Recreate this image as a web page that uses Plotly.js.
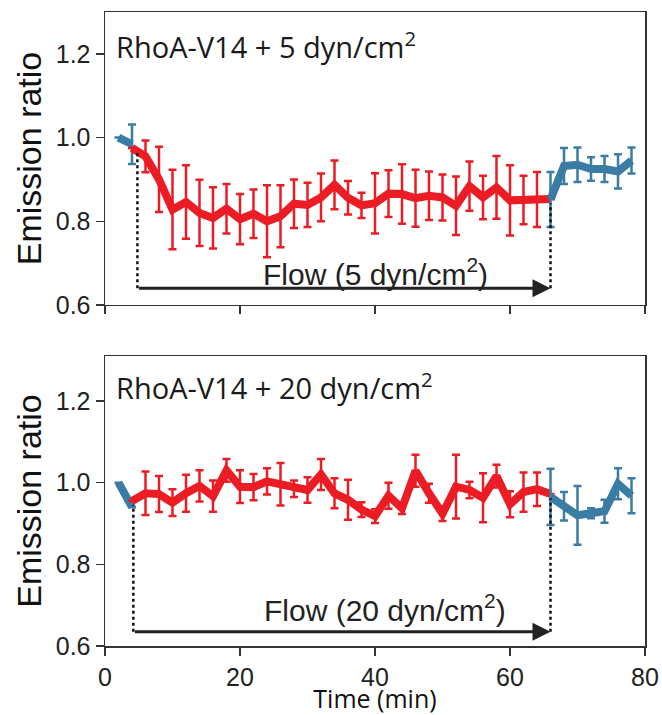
<!DOCTYPE html>
<html>
<head>
<meta charset="utf-8">
<script src="https://cdn.plot.ly/plotly-3.0.1.min.js"></script>
<style>html,body{margin:0;padding:0;background:#fff;}#chart{width:662px;height:715px;}</style>
</head>
<body>
<div id="chart"></div>
<script>
// ---------- Data ----------
// Top panel: RhoA-V14 + 5 dyn/cm2
const topPreTime   = [2, 4];
const topPreVal    = [1.000, 0.984];
const topPreErr    = [0, 0.047];

const topFlowTime  = [4, 6, 8, 10, 12, 14, 16, 18, 20, 22, 24, 26, 28, 30, 32, 34, 36, 38, 40, 42, 44, 46, 48, 50, 52, 54, 56, 58, 60, 62, 64, 66];
const topFlowVal   = [0.975, 0.955, 0.900, 0.828, 0.846, 0.820, 0.808, 0.830, 0.805, 0.818, 0.800, 0.812, 0.842, 0.839, 0.857, 0.887, 0.856, 0.838, 0.843, 0.866, 0.865, 0.855, 0.861, 0.857, 0.837, 0.884, 0.857, 0.881, 0.850, 0.851, 0.852, 0.853];
const topFlowErr   = [0, 0.038, 0.078, 0.095, 0.088, 0.079, 0.073, 0.059, 0.060, 0.058, 0.086, 0.074, 0.058, 0.053, 0.057, 0.058, 0.040, 0.030, 0.072, 0.056, 0.071, 0.068, 0.058, 0.055, 0.070, 0.059, 0.052, 0.075, 0.084, 0.058, 0.066, 0];

const topPostTime  = [66, 68, 70, 72, 74, 76, 78];
const topPostVal   = [0.852, 0.932, 0.935, 0.925, 0.925, 0.919, 0.945];
const topPostErr   = [0.066, 0.043, 0.041, 0.028, 0.031, 0.041, 0.031];

// Bottom panel: RhoA-V14 + 20 dyn/cm2
const botPreTime   = [2, 4];
const botPreVal    = [1.000, 0.940];
const botPreErr    = [0, 0];

const botFlowTime  = [4, 6, 8, 10, 12, 14, 16, 18, 20, 22, 24, 26, 28, 30, 32, 34, 36, 38, 40, 42, 44, 46, 48, 50, 52, 54, 56, 58, 60, 62, 64, 66];
const botFlowVal   = [0.955, 0.974, 0.972, 0.951, 0.974, 0.992, 0.967, 1.030, 0.990, 0.989, 1.003, 0.996, 0.985, 0.982, 1.020, 0.974, 0.958, 0.934, 0.918, 0.968, 0.937, 1.029, 0.974, 0.924, 0.990, 0.982, 0.963, 1.016, 0.947, 0.977, 0.984, 0.972];
const botFlowErr   = [0, 0.053, 0.044, 0.033, 0.045, 0.038, 0.038, 0.028, 0.040, 0.032, 0.032, 0.052, 0.020, 0.031, 0.038, 0.037, 0.049, 0.018, 0.017, 0.032, 0.014, 0.039, 0.023, 0.018, 0.078, 0.020, 0.060, 0.028, 0.032, 0.048, 0.041, 0];

const botPostTime  = [66, 68, 70, 72, 74, 76, 78];
const botPostVal   = [0.965, 0.942, 0.920, 0.925, 0.930, 0.997, 0.968];
const botPostErr   = [0.069, 0.035, 0.072, 0.012, 0.028, 0.038, 0.043];

// Flow windows and labels
const panelTitles  = ['RhoA-V14 + 5 dyn/cm<sup>2</sup>', 'RhoA-V14 + 20 dyn/cm<sup>2</sup>'];
const flowLabels   = ['Flow (5 dyn/cm<sup>2</sup>)', 'Flow (20 dyn/cm<sup>2</sup>)'];
const flowStart    = [4.8, 4.2];
const flowEnd      = [66, 66];
const flowArrowY   = [0.64, 0.635];
const flowLabelY   = [0.678, 0.693];
const flowLabelX   = [40, 41.5];
const yTickVals    = [0.6, 0.8, 1.0, 1.2];
const yTickText    = ['0.6', '0.8', '1.0', '1.2'];
const xTickVals    = [0, 20, 40, 60, 80];
const xTickText    = ['0', '20', '40', '60', '80'];

// ---------- Styles ----------
const RED = '#ec1c24';
const BLUE = '#3a7ca3';
const AX = '#333333';

function series(x, y, e, color, xa, ya) {
  return {
    type: 'scatter', mode: 'lines', x: x, y: y, xaxis: xa, yaxis: ya,
    line: {color: color, width: 8},
    error_y: {type: 'data', array: e, visible: true, color: color, thickness: 2.5, width: 4},
    hoverinfo: 'skip', showlegend: false
  };
}

const data = [
  series(topPreTime, topPreVal, topPreErr, BLUE, 'x', 'y'),
  series(topFlowTime, topFlowVal, topFlowErr, RED, 'x', 'y'),
  series(topPostTime, topPostVal, topPostErr, BLUE, 'x', 'y'),
  series(botPreTime, botPreVal, botPreErr, BLUE, 'x2', 'y2'),
  series(botFlowTime, botFlowVal, botFlowErr, RED, 'x2', 'y2'),
  series(botPostTime, botPostVal, botPostErr, BLUE, 'x2', 'y2')
];

const tickFont = {family: 'Liberation Sans, Arial, sans-serif', size: 25, color: '#222'};

function xAxis(anchor, showLabels, title) {
  const a = {
    anchor: anchor, range: [0, 80], showgrid: false, zeroline: false,
    showline: true, linecolor: AX, linewidth: 1.5, mirror: true,
    ticks: 'outside', ticklen: 8, tickwidth: 1.5, tickcolor: AX,
    tickvals: xTickVals, ticktext: xTickText, showticklabels: showLabels,
    tickfont: tickFont
  };
  if (title) a.title = {text: title, font: {family: 'Open Sans, sans-serif', size: 25, color: '#111'}, standoff: 0};
  return a;
}
function yAxis(anchor, domain, top) {
  return {
    anchor: anchor, domain: domain, range: [0.6, top], showgrid: false, zeroline: false,
    showline: true, linecolor: AX, linewidth: 1.5, mirror: true,
    ticks: 'outside', ticklen: 8, tickwidth: 1.5, tickcolor: AX,
    tickvals: yTickVals, ticktext: yTickText, tickfont: tickFont,
    title: {text: 'Emission ratio', font: {family: 'Liberation Sans, Arial, sans-serif', size: 34, color: '#111'}, standoff: 4}
  };
}

const annotations = [];
const shapes = [];
const refs = [['x', 'y', topFlowVal, topPostVal], ['x2', 'y2', botFlowVal, botPostVal]];
const titleY = [1.222, 1.237];
for (let i = 0; i < 2; i++) {
  const [xr, yr, flowVals] = refs[i];
  annotations.push({
    xref: xr, yref: yr, x: 1.4, y: titleY[i], xanchor: 'left', yanchor: 'middle',
    text: panelTitles[i], showarrow: false,
    font: {family: 'Open Sans, sans-serif', size: 29, color: '#1a1a1a'}
  });
  annotations.push({
    xref: xr, yref: yr, x: flowLabelX[i], y: flowLabelY[i], xanchor: 'center', yanchor: 'middle',
    text: flowLabels[i], showarrow: false,
    font: {family: 'Liberation Sans, Arial, sans-serif', size: 30, color: '#222'}
  });
  annotations.push({
    xref: xr, yref: yr, axref: xr, ayref: yr,
    x: flowEnd[i], y: flowArrowY[i], ax: flowStart[i], ay: flowArrowY[i],
    text: '', showarrow: true, arrowhead: 2, arrowsize: 1.2, arrowwidth: 3, arrowcolor: '#222'
  });
  shapes.push({type: 'line', xref: xr, yref: yr, x0: flowStart[i], x1: flowStart[i],
    y0: flowArrowY[i], y1: flowVals[0] - 0.01, line: {color: '#111', width: 2.5, dash: 'dot'}});
  shapes.push({type: 'line', xref: xr, yref: yr, x0: flowEnd[i], x1: flowEnd[i],
    y0: flowArrowY[i], y1: flowVals[flowVals.length - 1] - 0.01, line: {color: '#111', width: 2.5, dash: 'dot'}});
}

const layout = {
  width: 662, height: 715,
  margin: {l: 105, r: 17, t: 12, b: 69},
  paper_bgcolor: '#fff', plot_bgcolor: '#fff',
  showlegend: false,
  xaxis: xAxis('y', false, null),
  yaxis: yAxis('x', [0.5379, 1], 1.30),
  xaxis2: xAxis('y2', true, 'Time (min)'),
  yaxis2: yAxis('x2', [0, 0.4574], 1.31),
  annotations: annotations,
  shapes: shapes
};

Plotly.newPlot('chart', data, layout, {staticPlot: true, displayModeBar: false});
</script>
</body>
</html>
